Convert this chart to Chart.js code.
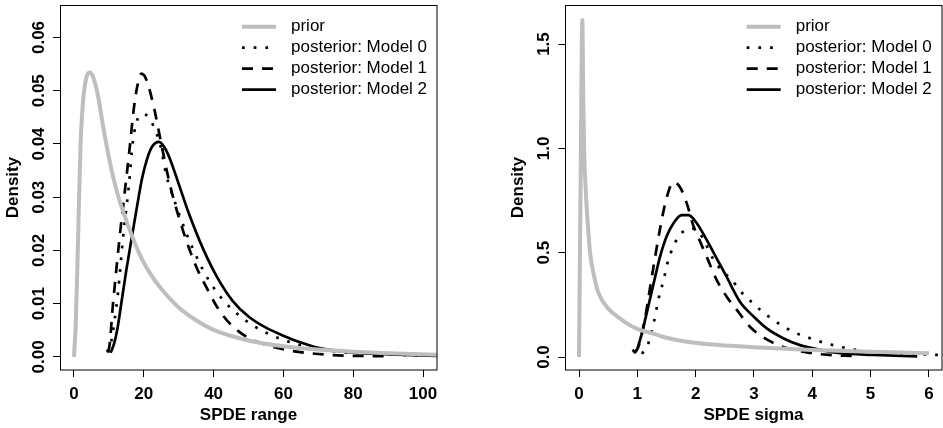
<!DOCTYPE html>
<html>
<head>
<meta charset="utf-8">
<script src="https://cdn.jsdelivr.net/npm/chart.js@4.4.1/dist/chart.umd.min.js"></script>
<style>
  body { margin: 0; background: #fff; }
  #wrap { position: relative; width: 943px; height: 428px; }
  canvas { position: absolute; top: 0; }
</style>
</head>
<body>
<div id="wrap">
  <canvas id="rangeChart" width="470" height="428" style="left:0px"></canvas>
  <canvas id="sigmaChart" width="473" height="428" style="left:470px"></canvas>
</div>
<script>
const seriesLabels = ["prior", "posterior: Model 0", "posterior: Model 1", "posterior: Model 2"];

// left panel: SPDE range, [x, density]
const rangePrior = [[0,0],[0.5,0.006],[0.9,0.015],[1.35,0.027],[1.9,0.040],[2.6,0.048],[3.5,0.0523],
  [4.5,0.0534],[5.4,0.0527],[6.9,0.049],[8.3,0.0435],[10,0.0375],[12,0.0318],[14,0.0275],[17.2,0.0218],
  [20,0.0177],[22,0.0155],[25,0.0128],[30,0.0093],[35,0.0069],[40,0.0051],[50,0.0031],[60,0.002],
  [70,0.0014],[80,0.001],[90,0.0007],[104,0.0004]];
const rangeModel0 = [[9.8,0.0008],[10.7,0.003],[12.6,0.012],[14,0.022],[15.7,0.032],[16.9,0.0405],
  [18.3,0.0448],[19.8,0.0456],[21.7,0.0448],[23.6,0.042],[24.6,0.0402],[26.5,0.034],[28.4,0.0301],
  [32.2,0.0232],[36,0.0176],[39,0.014],[42.7,0.0107],[47.5,0.0077],[52.3,0.0055],[58,0.0037],
  [64,0.0024],[74,0.0011],[85,0.0006],[104,0.0002]];
const rangeModel1 = [[9.3,0.001],[10,0.0015],[11.2,0.0101],[13.1,0.0226],[14.5,0.0307],[16,0.0395],
  [17.1,0.0464],[18.1,0.0507],[19.3,0.0532],[20.2,0.0528],[21.2,0.0512],[23,0.0466],[24.6,0.0414],
  [27.4,0.0326],[31.2,0.0238],[35,0.017],[38,0.013],[41,0.0094],[44.6,0.0063],[49.4,0.0038],
  [55,0.0023],[61,0.0013],[73,0.0004],[91,0.0001]];
const rangeModel2 = [[10.5,0.0008],[11.5,0.0025],[12.5,0.0055],[13.5,0.0098],[15,0.0163],[16.5,0.0222],
  [18,0.028],[19.5,0.0335],[21,0.0373],[22.5,0.0396],[24.3,0.0404],[26,0.0393],[27.5,0.0372],
  [30,0.0325],[33,0.0268],[37,0.0203],[41,0.015],[45.5,0.0105],[50,0.0076],[55,0.0055],[60,0.004],
  [65,0.0027],[70,0.0017],[80,0.0008],[90,0.0005],[104,0.0002]];
const rangeXTicks = [0, 20, 40, 60, 80, 100];
const rangeYTicks = [0, 0.01, 0.02, 0.03, 0.04, 0.05, 0.06];

// right panel: SPDE sigma
const sigmaPrior = [[0,0],[0.025,0.75],[0.057,1.615],[0.075,1.2],[0.09,0.97],[0.115,0.8],[0.15,0.64],
  [0.19,0.5],[0.25,0.4],[0.33,0.31],[0.5,0.233],[0.7,0.185],[0.8,0.165],[1,0.135],[1.3,0.11],
  [1.5,0.092],[1.85,0.073],[2.4,0.057],[3,0.047],[4,0.034],[5,0.025],[6,0.018]];
const sigmaModel0 = [[1.08,0.015],[1.19,0.066],[1.28,0.161],[1.36,0.273],[1.45,0.369],[1.53,0.465],
  [1.62,0.529],[1.7,0.576],[1.82,0.608],[1.93,0.617],[2.05,0.6],[2.16,0.55],[2.3,0.47],[2.45,0.415],
  [2.62,0.369],[2.73,0.33],[2.85,0.29],[2.99,0.257],[3.13,0.22],[3.28,0.188],[3.44,0.158],[3.59,0.133],
  [3.76,0.11],[3.93,0.093],[4.12,0.075],[4.3,0.061],[4.48,0.049],[4.66,0.038],[4.85,0.03],[5.03,0.023],
  [5.4,0.018],[5.78,0.014],[6.17,0.01],[6.3,0.009]];
const sigmaModel1 = [[0.95,0.02],[1.02,0.05],[1.13,0.18],[1.2,0.3],[1.3,0.47],[1.4,0.63],[1.5,0.76],
  [1.62,0.838],[1.73,0.815],[1.85,0.735],[1.96,0.63],[2.02,0.59],[2.19,0.48],[2.36,0.37],[2.53,0.29],
  [2.71,0.225],[2.93,0.145],[3.25,0.08],[3.59,0.04],[3.93,0.021],[4.28,0.01],[4.7,0.005]];
const sigmaModel2 = [[0.92,0.035],[0.96,0.022],[1.05,0.085],[1.16,0.209],[1.28,0.353],[1.39,0.481],
  [1.5,0.576],[1.62,0.641],[1.76,0.68],[1.88,0.68],[2.02,0.641],[2.19,0.561],[2.36,0.473],[2.53,0.385],
  [2.76,0.265],[2.99,0.195],[3.22,0.137],[3.51,0.089],[3.79,0.057],[4.14,0.034],[4.48,0.018],
  [5.05,0.01],[5.8,0.003]];
const sigmaXTicks = [0, 1, 2, 3, 4, 5, 6];
const sigmaYTicks = [0, 0.5, 1, 1.5];

const FONT = '"Liberation Sans", Arial, Helvetica, sans-serif';
const lineStyles = [
  { color: "#bebebe", width: 4, dash: [] },
  { color: "#000", width: 2.7, dash: [2.7, 9] },
  { color: "#000", width: 2.7, dash: [11, 9] },
  { color: "#000", width: 2.7, dash: [] },
];

// box around the plot region + R-style legend in the top right
const frameAndLegend = {
  id: "frameAndLegend",
  afterDraw(chart) {
    const { ctx, chartArea: a } = chart;
    ctx.save();
    ctx.strokeStyle = "#000";
    ctx.lineWidth = 1;
    ctx.setLineDash([]);
    const l = Math.round(a.left) + 0.5, t = Math.round(a.top) + 0.5;
    ctx.strokeRect(l, t, Math.round(a.right) - l, Math.round(a.bottom) - t);

    const x0 = a.right - 195, x1 = a.right - 161, tx = a.right - 146;
    ctx.font = "17px " + FONT;
    ctx.textBaseline = "middle";
    ctx.textAlign = "left";
    chart.data.datasets.forEach((ds, i) => {
      const y = a.top + 21.7 + 21 * i;
      ctx.strokeStyle = ds.borderColor;
      ctx.lineWidth = ds.borderWidth;
      ctx.setLineDash(ds.borderDash);
      ctx.beginPath();
      ctx.moveTo(x0, y);
      ctx.lineTo(x1, y);
      ctx.stroke();
      ctx.fillStyle = "#000";
      ctx.fillText(ds.label, tx, y);
    });
    ctx.restore();
  },
};

function widestLabel(labels) {
  const m = document.createElement("canvas").getContext("2d");
  m.font = "bold 17px " + FONT;
  return Math.max(...labels.map((s) => m.measureText(s).width));
}

function makePanel(id, series, cfg) {
  const canvas = document.getElementById(id);
  const yLabels = cfg.yTicks.map((v) => v.toFixed(cfg.yDecimals));
  const yPad = 14 - widestLabel(yLabels) / 2;

  new Chart(canvas, {
    type: "line",
    data: {
      datasets: series.map((pts, i) => ({
        label: seriesLabels[i],
        data: pts.map(([x, y]) => ({ x, y })),
        borderColor: lineStyles[i].color,
        borderWidth: lineStyles[i].width,
        borderDash: lineStyles[i].dash,
        pointRadius: 0,
        fill: false,
        cubicInterpolationMode: "monotone",
      })),
    },
    options: {
      responsive: false,
      animation: false,
      devicePixelRatio: 1,
      layout: { padding: { top: 5, right: canvas.width - cfg.areaRight, left: 0, bottom: 0 } },
      plugins: { legend: { display: false }, tooltip: { enabled: false } },
      scales: {
        x: {
          type: "linear",
          min: cfg.xMin,
          max: cfg.xMax,
          afterBuildTicks: (s) => { s.ticks = cfg.xTicks.map((v) => ({ value: v })); },
          afterFit: (s) => { s.height = 58; s.paddingLeft = 0; s.paddingRight = 0; },
          border: { display: false },
          grid: { drawOnChartArea: false, drawTicks: true, tickLength: 7, color: "#000", lineWidth: 1 },
          ticks: { color: "#000", padding: 7, maxRotation: 0, font: { family: FONT, size: 17, weight: "bold" } },
          title: {
            display: true, text: cfg.xTitle, color: "#000",
            font: { family: FONT, size: 17, weight: "bold" },
            padding: { top: 0, bottom: 2.8 },
          },
        },
        y: {
          type: "linear",
          min: cfg.yMin,
          max: cfg.yMax,
          afterBuildTicks: (s) => { s.ticks = cfg.yTicks.map((v) => ({ value: v })); },
          afterFit: (s) => { s.width = cfg.areaLeft; s.paddingTop = 0; s.paddingBottom = 0; },
          border: { display: false },
          grid: { drawOnChartArea: false, drawTicks: true, tickLength: 7, color: "#000", lineWidth: 1 },
          ticks: {
            color: "#000",
            minRotation: 90,
            maxRotation: 90,
            crossAlign: "center",
            padding: yPad,
            callback: (v) => Number(v).toFixed(cfg.yDecimals),
            font: { family: FONT, size: 17, weight: "bold" },
          },
          title: {
            display: true, text: "Density", color: "#000",
            font: { family: FONT, size: 17, weight: "bold" },
            padding: { top: cfg.yTitleOffset, bottom: 0 },
          },
        },
      },
    },
    plugins: [frameAndLegend],
  });
}

makePanel("rangeChart", [rangePrior, rangeModel0, rangeModel1, rangeModel2], {
  xMin: -4, xMax: 104, yMin: -0.00245, yMax: 0.0661,
  xTicks: rangeXTicks, yTicks: rangeYTicks, yDecimals: 2,
  xTitle: "SPDE range", areaLeft: 60, areaRight: 437, yTitleOffset: 3.1,
});

makePanel("sigmaChart", [sigmaPrior, sigmaModel0, sigmaModel1, sigmaModel2], {
  xMin: -0.235, xMax: 6.22, yMin: -0.0623, yMax: 1.687,
  xTicks: sigmaXTicks, yTicks: sigmaYTicks, yDecimals: 1,
  xTitle: "SPDE sigma", areaLeft: 95.3, areaRight: 471.7, yTitleOffset: 38.1,
});
</script>
</body>
</html>
